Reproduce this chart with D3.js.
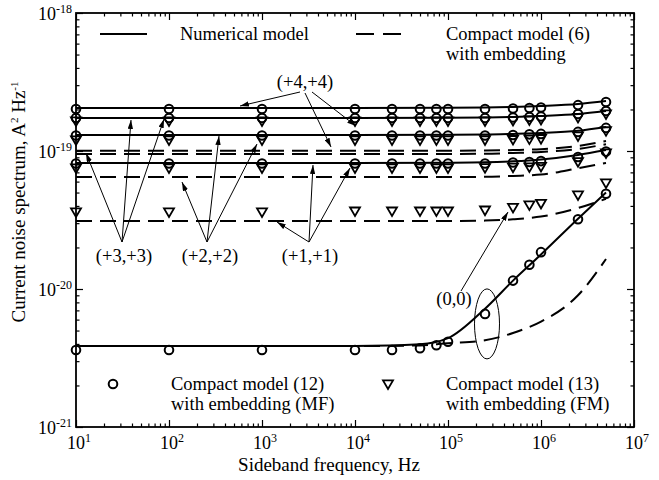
<!DOCTYPE html>
<html><head><meta charset="utf-8">
<script src="https://cdn.jsdelivr.net/npm/d3@7"></script>
<style>
body{margin:0;background:#fff}
svg{display:block}
text{font-family:"Liberation Serif","Times New Roman",serif;fill:#000}
</style>
</head><body>
<svg id="c" width="659" height="480" font-family="Liberation Serif, Times New Roman, serif"></svg>
<script>
// ---------------- data ----------------
const xTickValues = [1e1, 1e2, 1e3, 1e4, 1e5, 1e6, 1e7];
const xTickExps = ["1", "2", "3", "4", "5", "6", "7"];
const yTickValues = [1e-18, 1e-19, 1e-20, 1e-21];
const yTickExps = ["-18", "-19", "-20", "-21"];

// frequencies of the model curves
const lineFreq = [10, 100, 1e3, 1e4, 1e5, 2.5e5, 5e5, 1e6, 2.5e6, 5e6];
const zeroFreq = [10, 100, 1e3, 1e4, 5e4, 1e5, 2.5e5, 5e5, 1e6, 2.5e6, 5e6];
// numerical model (solid)
const numericalA = [2.05e-19, 2.05e-19, 2.05e-19, 2.05e-19, 2.055e-19, 2.065e-19, 2.085e-19, 2.12e-19, 2.19e-19, 2.30e-19];
const numericalB = [1.734e-19, 1.734e-19, 1.734e-19, 1.734e-19, 1.74e-19, 1.75e-19, 1.765e-19, 1.795e-19, 1.855e-19, 1.95e-19];
const numericalC = [1.306e-19, 1.306e-19, 1.306e-19, 1.306e-19, 1.31e-19, 1.315e-19, 1.33e-19, 1.35e-19, 1.40e-19, 1.49e-19];
const numericalD = [8.19e-20, 8.19e-20, 8.19e-20, 8.19e-20, 8.23e-20, 8.28e-20, 8.42e-20, 8.68e-20, 9.36e-20, 1.016e-19];
const numerical00 = [3.86e-21, 3.86e-21, 3.86e-21, 3.87e-21, 3.98e-21, 4.4e-21, 7.2e-21, 1.15e-20, 1.78e-20, 3.23e-20, 5.0e-20];
// compact model (6) (dashed)
const compactA = [1.005e-19, 1.005e-19, 1.005e-19, 1.005e-19, 1.005e-19, 1.008e-19, 1.016e-19, 1.03e-19, 1.087e-19, 1.18e-19];
const compactB = [9.52e-20, 9.52e-20, 9.52e-20, 9.52e-20, 9.52e-20, 9.55e-20, 9.68e-20, 9.84e-20, 1.035e-19, 1.12e-19];
const compactC = [6.48e-20, 6.48e-20, 6.48e-20, 6.48e-20, 6.48e-20, 6.5e-20, 6.6e-20, 6.75e-20, 7.5e-20, 8.2e-20];
const compactD = [3.11e-20, 3.11e-20, 3.11e-20, 3.11e-20, 3.11e-20, 3.13e-20, 3.2e-20, 3.35e-20, 3.86e-20, 4.5e-20];
const compact00 = [3.86e-21, 3.86e-21, 3.86e-21, 3.86e-21, 3.9e-21, 4.05e-21, 4.25e-21, 4.8e-21, 5.8e-21, 9.0e-21, 1.65e-20];

// marker frequencies
const markerFreq = [10, 100, 1e3, 1e4, 2.5e4, 5e4, 7.5e4, 1e5, 2.5e5, 5e5, 7.5e5, 1e6, 2.5e6, 5e6];
// compact model (12), MF (circles)
const mfA = [2.015e-19, 2.015e-19, 2.015e-19, 2.015e-19, 2.015e-19, 2.015e-19, 2.015e-19, 2.015e-19, 2.015e-19, 2.03e-19, 2.05e-19, 2.065e-19, 2.15e-19, 2.265e-19];
const mfB = [1.734e-19, 1.734e-19, 1.734e-19, 1.734e-19, 1.734e-19, 1.734e-19, 1.734e-19, 1.734e-19, 1.734e-19, 1.75e-19, 1.765e-19, 1.78e-19, 1.855e-19, 1.95e-19];
const mfC = [1.295e-19, 1.295e-19, 1.295e-19, 1.295e-19, 1.295e-19, 1.295e-19, 1.295e-19, 1.295e-19, 1.295e-19, 1.306e-19, 1.32e-19, 1.33e-19, 1.375e-19, 1.47e-19];
const mfD = [8.12e-20, 8.12e-20, 8.12e-20, 8.12e-20, 8.12e-20, 8.12e-20, 8.12e-20, 8.12e-20, 8.12e-20, 8.25e-20, 8.32e-20, 8.45e-20, 9.05e-20, 9.9e-20];
const mf00 = [3.61e-21, 3.61e-21, 3.61e-21, 3.61e-21, 3.61e-21, 3.72e-21, 3.91e-21, 4.15e-21, 6.6e-21, 1.15e-20, 1.5e-20, 1.85e-20, 3.2e-20, 4.9e-20];
// compact model (13), FM (triangles)
const fmA = [1.65e-19, 1.65e-19, 1.65e-19, 1.65e-19, 1.65e-19, 1.65e-19, 1.65e-19, 1.65e-19, 1.65e-19, 1.665e-19, 1.68e-19, 1.69e-19, 1.75e-19, 1.855e-19];
const fmB = [1.20e-19, 1.20e-19, 1.20e-19, 1.20e-19, 1.20e-19, 1.20e-19, 1.20e-19, 1.20e-19, 1.204e-19, 1.21e-19, 1.22e-19, 1.23e-19, 1.285e-19, 1.40e-19];
const fmC = [7.53e-20, 7.53e-20, 7.53e-20, 7.53e-20, 7.53e-20, 7.53e-20, 7.53e-20, 7.53e-20, 7.56e-20, 7.62e-20, 7.66e-20, 7.72e-20, 8.37e-20, 9.68e-20];
const fmD = [3.61e-20, 3.61e-20, 3.61e-20, 3.67e-20, 3.67e-20, 3.67e-20, 3.67e-20, 3.67e-20, 3.73e-20, 3.9e-20, 4.06e-20, 4.17e-20, 4.8e-20, 5.86e-20];

// ---------------- layout ----------------
const FONT = 18.5;
const m = {l: 76, r: 634, t: 13, b: 427};
const svg = d3.select('#c');
const x = d3.scaleLog().domain([10, 1e7]).range([m.l, m.r]);
const y = d3.scaleLog().domain([1e-21, 1e-18]).range([m.b, m.t]);

// arrowhead marker
const defs = svg.append('defs');
defs.append('marker').attr('id', 'ah').attr('viewBox', '0 0 10 6')
  .attr('refX', 10).attr('refY', 3).attr('markerWidth', 9).attr('markerHeight', 5.4)
  .attr('markerUnits', 'userSpaceOnUse').attr('orient', 'auto')
  .append('path').attr('d', 'M0,0 L10,3 L0,6 Z').attr('fill', '#000');

// ticks (inside, all four sides)
function minorTicks(lo, hi) {
  const out = [];
  for (let e = lo; e < hi; e++) for (let k = 2; k <= 9; k++) out.push(k * Math.pow(10, e));
  return out;
}
const xMinor = minorTicks(1, 7);
const yMinor = minorTicks(-21, -18).map(v => +v.toPrecision(3));
function addAxis(gen, tr, vals, size) {
  const g = svg.append('g').attr('transform', tr)
    .call(gen.tickValues(vals).tickSize(-size).tickFormat(''));
  g.select('.domain').remove();
  g.selectAll('line').attr('stroke', '#000').attr('stroke-width', 1.2);
}
addAxis(d3.axisBottom(x), `translate(0,${m.b})`, xMinor, 3.5);
addAxis(d3.axisBottom(x), `translate(0,${m.b})`, xTickValues, 7);
addAxis(d3.axisTop(x), `translate(0,${m.t})`, xMinor, 3.5);
addAxis(d3.axisTop(x), `translate(0,${m.t})`, xTickValues, 7);
addAxis(d3.axisLeft(y), `translate(${m.l},0)`, yMinor, 3.5);
addAxis(d3.axisLeft(y), `translate(${m.l},0)`, yTickValues, 7);
addAxis(d3.axisRight(y), `translate(${m.r},0)`, yMinor, 3.5);
addAxis(d3.axisRight(y), `translate(${m.r},0)`, yTickValues, 7);

// tick labels
xTickValues.forEach((v, i) => {
  const t = svg.append('text').attr('x', x(v) + 3).attr('y', m.b + 22)
    .attr('text-anchor', 'middle').attr('font-size', 18);
  t.append('tspan').text('10');
  t.append('tspan').attr('font-size', 12).attr('dy', -7).text(xTickExps[i]);
});
yTickValues.forEach((v, i) => {
  const t = svg.append('text').attr('x', m.l - 4).attr('y', y(v) + 7)
    .attr('text-anchor', 'end').attr('font-size', 18);
  t.append('tspan').text('10');
  t.append('tspan').attr('font-size', 12).attr('dy', -7).text(yTickExps[i]);
});

// axis titles
svg.append('text').attr('x', 329).attr('y', 471)
  .attr('text-anchor', 'middle').attr('font-size', 19).text('Sideband frequency, Hz');
const yt = svg.append('text').attr('transform', 'translate(25,202) rotate(-90)')
  .attr('text-anchor', 'middle').attr('font-size', 19);
yt.append('tspan').text('Current noise spectrum, A');
yt.append('tspan').attr('font-size', 11).attr('dy', -7).text('2');
yt.append('tspan').attr('dy', 7).text(' Hz');
yt.append('tspan').attr('font-size', 11).attr('dy', -7).text('-1');

// curves
const line = d3.line().x(d => x(d[0])).y(d => y(d[1])).curve(d3.curveMonotoneX);
function curve(freqs, vals, dashed) {
  svg.append('path').datum(freqs.map((f, i) => [f, vals[i]]))
    .attr('d', line).attr('fill', 'none').attr('stroke', '#000')
    .attr('stroke-width', 2).attr('stroke-dasharray', dashed ? '16,8' : null);
}
[numericalA, numericalB, numericalC, numericalD].forEach(s => curve(lineFreq, s, false));
curve(zeroFreq, numerical00, false);
[compactA, compactB, compactC, compactD].forEach(s => curve(lineFreq, s, true));
curve(zeroFreq, compact00, true);

// markers
const triPath = 'M-5,-3.6 L5,-3.6 L0,5 Z';
function circles(vals) {
  svg.append('g').selectAll('circle').data(markerFreq.map((f, i) => [f, vals[i]])).join('circle')
    .attr('cx', d => x(d[0])).attr('cy', d => y(d[1])).attr('r', 4.3)
    .attr('fill', 'none').attr('stroke', '#000').attr('stroke-width', 2);
}
function triangles(vals) {
  svg.append('g').selectAll('path').data(markerFreq.map((f, i) => [f, vals[i]])).join('path')
    .attr('transform', d => `translate(${x(d[0])},${y(d[1])})`).attr('d', triPath)
    .attr('fill', 'none').attr('stroke', '#000').attr('stroke-width', 1.8).attr('stroke-linejoin', 'miter');
}
[fmA, fmB, fmC, fmD].forEach(triangles);
[mfA, mfB, mfC, mfD, mf00].forEach(circles);

// ---------------- legends ----------------
svg.append('line').attr('x1', 100).attr('x2', 147).attr('y1', 34).attr('y2', 34)
  .attr('stroke', '#000').attr('stroke-width', 2);
svg.append('text').attr('x', 180).attr('y', 40).attr('font-size', FONT).text('Numerical model');
svg.append('line').attr('x1', 356).attr('x2', 401).attr('y1', 34).attr('y2', 34)
  .attr('stroke', '#000').attr('stroke-width', 2).attr('stroke-dasharray', '18,9');
svg.append('text').attr('x', 446).attr('y', 40).attr('font-size', FONT).text('Compact model (6)');
svg.append('text').attr('x', 446).attr('y', 60).attr('font-size', FONT).text('with embedding');

svg.append('circle').attr('cx', 113).attr('cy', 384).attr('r', 4.3)
  .attr('fill', 'none').attr('stroke', '#000').attr('stroke-width', 2);
svg.append('text').attr('x', 171).attr('y', 390).attr('font-size', FONT).text('Compact model (12)');
svg.append('text').attr('x', 171).attr('y', 410).attr('font-size', FONT).text('with embedding (MF)');
svg.append('path').attr('transform', 'translate(388,384)').attr('d', triPath)
  .attr('fill', 'none').attr('stroke', '#000').attr('stroke-width', 1.8);
svg.append('text').attr('x', 446).attr('y', 390).attr('font-size', FONT).text('Compact model (13)');
svg.append('text').attr('x', 446).attr('y', 410).attr('font-size', FONT).text('with embedding (FM)');

// ---------------- annotations ----------------
const labels = [
  {t: '(+4,+4)', x: 305, y: 88},
  {t: '(+3,+3)', x: 124, y: 262},
  {t: '(+2,+2)', x: 210, y: 262},
  {t: '(+1,+1)', x: 310, y: 262},
  {t: '(0,0)', x: 454, y: 305}
];
labels.forEach(l => svg.append('text').attr('x', l.x).attr('y', l.y)
  .attr('text-anchor', 'middle').attr('font-size', FONT).text(l.t));
const arrows = [
  [300, 92, 240, 106], [305, 93, 331, 147], [312, 92, 356, 126],
  [122, 242, 86, 153], [122, 242, 131, 120], [122, 242, 164, 119],
  [207, 242, 182, 182], [207, 242, 219, 136], [207, 242, 257, 144],
  [309, 242, 277, 222], [309, 242, 313, 165], [309, 242, 350, 168],
  [461, 291, 508, 212]
];
arrows.forEach(a => svg.append('line').attr('x1', a[0]).attr('y1', a[1]).attr('x2', a[2]).attr('y2', a[3])
  .attr('stroke', '#000').attr('stroke-width', 1).attr('marker-end', 'url(#ah)'));
// ellipse around the (0,0) point at 250 kHz
svg.append('ellipse').attr('cx', x(2.5e5) + 2).attr('cy', y(mf00[8]) + 10).attr('rx', 12.5).attr('ry', 35)
  .attr('fill', 'none').attr('stroke', '#000').attr('stroke-width', 1);

// plot frame
svg.append('rect').attr('x', m.l).attr('y', m.t).attr('width', m.r - m.l).attr('height', m.b - m.t)
  .attr('fill', 'none').attr('stroke', '#000').attr('stroke-width', 1.8);
</script>
</body></html>
